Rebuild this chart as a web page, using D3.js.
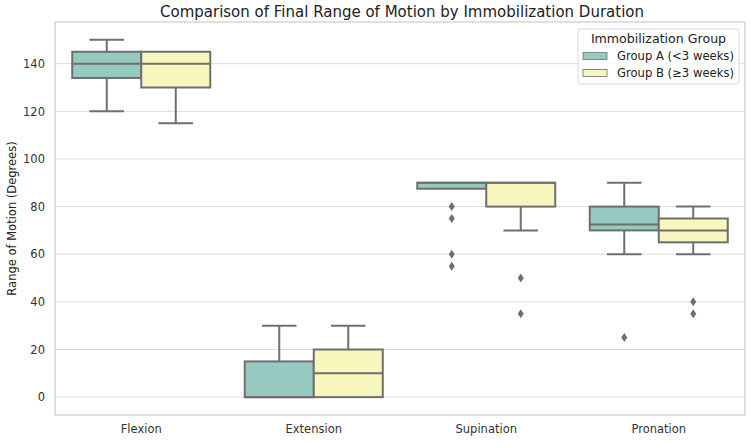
<!DOCTYPE html>
<html><head><meta charset="utf-8">
<script src="https://cdn.jsdelivr.net/npm/d3@7"></script>
<style>body{margin:0;background:#fff;}svg{display:block;font-family:"DejaVu Sans",sans-serif;}</style>
</head><body>
<svg id="c" width="750" height="443"></svg>
<script>
const categories = ["Flexion","Extension","Supination","Pronation"];
const groups = ["Group A (<3 weeks)","Group B (≥3 weeks)"];
const colors = ["#96cac1","#f6f6bd"];
const yTicks = [0,20,40,60,80,100,120,140];
// box statistics per category: [whiskerLow, q1, median, q3, whiskerHigh]
const groupAStats = [[120,134,140,145,150],[0,0,0,15,30],[87.5,87.5,90,90,90],[60,70,72.5,80,90]];
const groupBStats = [[115,130,140,145,145],[0,0,10,20,30],[70,80,90,90,90],[60,65,70,75,80]];
const groupAOutliers = [[],[],[80,75,60,55],[25]];
const groupBOutliers = [[],[],[50,35],[40,35]];

const svg = d3.select("#c");
const m = {l:55, r:745, t:22, b:415};
const x = d3.scaleBand().domain(categories).range([m.l,m.r]).padding(0);
const y = d3.scaleLinear().domain([-7.5,157.5]).range([m.b,m.t]);
const inner = d3.scaleBand().domain([0,1]).range([0,x.bandwidth()]).paddingOuter(0.25).paddingInner(0);

// grid
svg.append("g").selectAll("line").data(yTicks).join("line")
  .attr("x1",m.l).attr("x2",m.r).attr("y1",d=>y(d)).attr("y2",d=>y(d))
  .attr("stroke","#dddddd").attr("stroke-width",1);

// frame
svg.append("rect").attr("x",m.l).attr("y",m.t).attr("width",m.r-m.l).attr("height",m.b-m.t)
  .attr("fill","none").attr("stroke","#cccccc").attr("stroke-width",1.2);

// y axis
const yAxis = d3.axisLeft(y).tickValues(yTicks).tickSize(0).tickPadding(10);
const ga = svg.append("g").attr("transform",`translate(${m.l},0)`).call(yAxis);
ga.select(".domain").remove();
ga.selectAll("text").attr("font-size",11.5).attr("fill","#333").attr("font-family","DejaVu Sans");

// x axis
const xAxis = d3.axisBottom(x).tickSize(0).tickPadding(10);
const gx = svg.append("g").attr("transform",`translate(0,${m.b})`).call(xAxis);
gx.select(".domain").remove();
gx.selectAll("text").attr("font-size",11.5).attr("fill","#333").attr("font-family","DejaVu Sans");

const lc = "#6f6f6f";
const allStats = [groupAStats, groupBStats];
const allOut = [groupAOutliers, groupBOutliers];
const bw = inner.bandwidth();
allStats.forEach((stats,gi)=>{
  const g = svg.append("g");
  stats.forEach((s,ci)=>{
    const x0 = x(categories[ci]) + inner(gi);
    const cx = x0 + bw/2;
    const [wl,q1,med,q3,wh] = s;
    g.append("line").attr("x1",cx).attr("x2",cx).attr("y1",y(q3)).attr("y2",y(wh)).attr("stroke",lc).attr("stroke-width",2);
    g.append("line").attr("x1",cx).attr("x2",cx).attr("y1",y(q1)).attr("y2",y(wl)).attr("stroke",lc).attr("stroke-width",2);
    if (wh>q3) g.append("line").attr("x1",cx-bw/4).attr("x2",cx+bw/4).attr("y1",y(wh)).attr("y2",y(wh)).attr("stroke",lc).attr("stroke-width",2);
    if (wl<q1) g.append("line").attr("x1",cx-bw/4).attr("x2",cx+bw/4).attr("y1",y(wl)).attr("y2",y(wl)).attr("stroke",lc).attr("stroke-width",2);
    g.append("rect").attr("x",x0).attr("width",bw).attr("y",y(q3)).attr("height",y(q1)-y(q3))
      .attr("fill",colors[gi]).attr("stroke",lc).attr("stroke-width",2);
    g.append("line").attr("x1",x0).attr("x2",x0+bw).attr("y1",y(med)).attr("y2",y(med)).attr("stroke",lc).attr("stroke-width",2);
    allOut[gi][ci].forEach(v=>{
      const py = y(v);
      g.append("path").attr("d",`M${cx},${py-4.5}L${cx+3},${py}L${cx},${py+4.5}L${cx-3},${py}Z`).attr("fill",lc);
    });
  });
});

// title
svg.append("text").attr("x",(m.l+m.r)/2+2).attr("y",17).attr("text-anchor","middle")
  .attr("font-size",15).attr("fill","#222").text("Comparison of Final Range of Motion by Immobilization Duration");

// y label
svg.append("text").attr("transform",`translate(16,${(m.t+m.b)/2}) rotate(-90)`).attr("text-anchor","middle")
  .attr("font-size",11.5).attr("fill","#222").text("Range of Motion (Degrees)");

// legend
const lg = svg.append("g");
lg.append("rect").attr("x",578).attr("y",29).attr("width",161).attr("height",55).attr("rx",3)
  .attr("fill","#fff").attr("fill-opacity",0.8).attr("stroke","#d8d8d8");
lg.append("text").attr("x",658.5).attr("y",42.5).attr("text-anchor","middle").attr("font-size",12.6).attr("fill","#222").text("Immobilization Group");
groups.forEach((gname,i)=>{
  const yy = 56 + i*17;
  lg.append("rect").attr("x",583).attr("y",yy-3.5).attr("width",24).attr("height",7).attr("fill",colors[i]).attr("stroke",lc).attr("stroke-width",0.8);
  lg.append("text").attr("x",617).attr("y",yy+4.2).attr("font-size",11.6).attr("fill","#222").text(gname);
});
</script>
</body></html>
